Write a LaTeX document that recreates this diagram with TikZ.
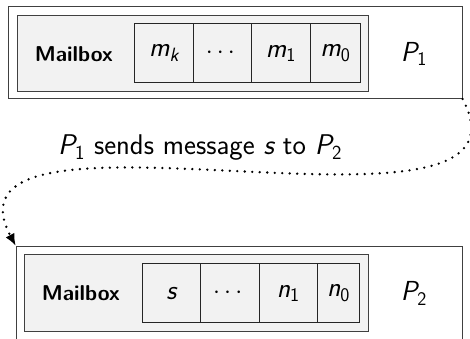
\documentclass[tikz,border=0pt]{standalone}
\usepackage{amsmath}
\usetikzlibrary{arrows.meta}
\newcommand{\sv}[2]{\textsf{\itshape #1}_{\textsf{#2}}}
\begin{document}
\begin{tikzpicture}[x=1pt,y=1pt,
  procbox/.style={draw=black!75, fill=white, line width=0.9pt, inner sep=0pt, anchor=south west},
  mbox/.style={draw=black!75, fill=black!5, line width=0.9pt, inner sep=0pt, anchor=south west},
  cell/.style={draw=black!85, fill=black!5, line width=0.9pt, inner sep=0pt, anchor=south west},
  mlabel/.style={font=\fontsize{21.5}{24}\selectfont\sffamily\bfseries},
  ctext/.style={font=\fontsize{27.5}{31}\selectfont\sffamily},
  ptext/.style={font=\fontsize{27.5}{31}\selectfont\sffamily},
  msgtext/.style={font=\fontsize{28.5}{33}\selectfont\sffamily, anchor=base},
  sendarrow/.style={line width=2.6pt, dash pattern=on 0pt off 7.5pt, line cap=round, -{Latex[length=12pt,width=10pt]}}]
\useasboundingbox (0,0) rectangle (470,339);
% P1
\node[procbox, minimum width=453.4pt, minimum height=91.7pt] (p1) at (8.3,240) {};
\node[mbox, minimum width=351pt, minimum height=76pt] (mb1) at (17.3,247.3) {};
\node[cell, minimum width=58.4pt, minimum height=58.7pt] (a1) at (134.3,256) {};
\node[cell, minimum width=58.6pt, minimum height=58.7pt] (a2) at (192.7,256) {};
\node[cell, minimum width=58.4pt, minimum height=58.7pt] (a3) at (251.3,256) {};
\node[cell, minimum width=50.3pt, minimum height=58.7pt] (a4) at (309.7,256) {};
\node[mlabel] (t1) at (73.8,285.3) {Mailbox};
\node[ctext] at (a1.center) {$\sv{m}{\itshape k}$};
\node[ctext] at (a2.center) {$\cdots$};
\node[ctext] at (a3.center) {$\sv{m}{1}$};
\node[ctext] at (a4.center) {$\sv{m}{0}$};
\node[ptext] (n1) at (414,285.3) {$\sv{P}{1}$};
% P2
\node[procbox, minimum width=446pt, minimum height=96pt] (p2) at (15.7,-3.7) {};
\node[mbox, minimum width=344pt, minimum height=76.4pt] (mb2) at (24.3,7.3) {};
\node[cell, minimum width=58.3pt, minimum height=58.7pt] (b1) at (141.7,16) {};
\node[cell, minimum width=58.7pt, minimum height=58.7pt] (b2) at (200,16) {};
\node[cell, minimum width=58.3pt, minimum height=58.7pt] (b3) at (258.7,16) {};
\node[cell, minimum width=42.3pt, minimum height=58.7pt] (b4) at (317,16) {};
\node[mlabel] (t2) at (80.8,45.5) {Mailbox};
\node[ctext] at (b1.center) {$\textsf{\itshape s}$};
\node[ctext] at (b2.center) {$\cdots$};
\node[ctext] at (b3.center) {$\sv{n}{1}$};
\node[ctext] at (b4.center) {$\sv{n}{0}$};
\node[ptext] (n2) at (414,45.5) {$\sv{P}{2}$};
% message
\node[msgtext] (msg) at (200,184) {$\sv{P}{1}$ sends message $\textsf{\itshape s}$ to $\sv{P}{2}$};
\draw[sendarrow] (p1.south east) .. controls +(-62:190) and +(118:190) .. (p2.north west);
\end{tikzpicture}
\end{document}
